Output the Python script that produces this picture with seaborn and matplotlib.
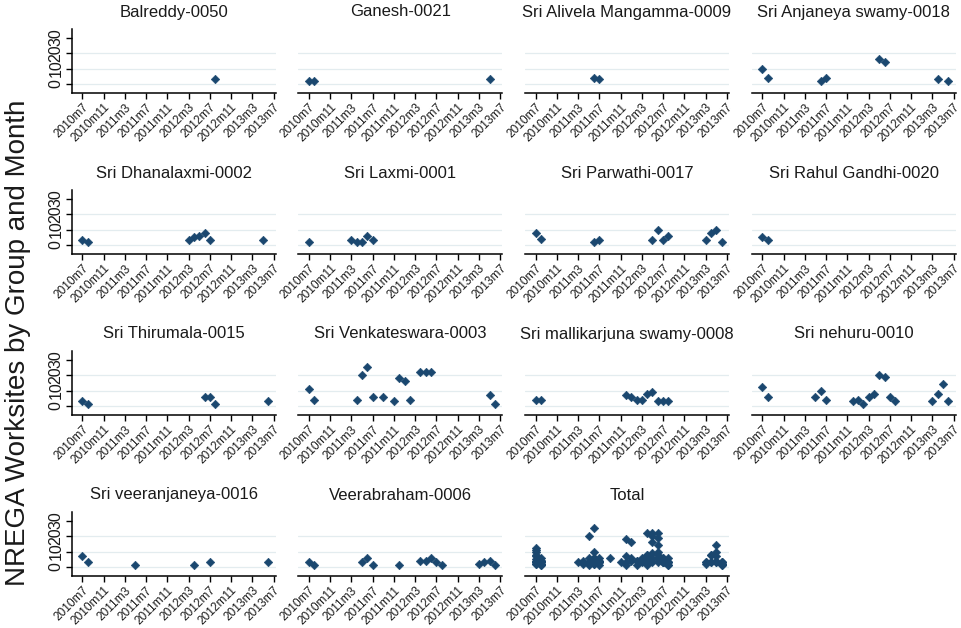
import matplotlib
matplotlib.use("Agg")
import matplotlib.pyplot as plt
import seaborn as sns
import pandas as pd

sns.set_theme(style="white")
plt.rcParams["font.family"] = ["Liberation Sans", "DejaVu Sans"]

# ---- worksites per month for each group ----
balreddy_months = ["2012m8"]
balreddy_values = [3]

ganesh_months = ["2010m7", "2010m8", "2013m5"]
ganesh_values = [2, 2, 3]

alivela_months = ["2011m6", "2011m7"]
alivela_values = [4, 3]

anjaneya_months = ["2010m7", "2010m8", "2011m6", "2011m7", "2012m5", "2012m6", "2013m4", "2013m6"]
anjaneya_values = [10, 4, 2, 4, 16, 14, 3, 2]

dhanalaxmi_months = ["2010m7", "2010m8", "2012m3", "2012m4", "2012m5", "2012m6", "2012m7", "2013m5"]
dhanalaxmi_values = [3, 2, 3, 5, 6, 8, 3, 3]

laxmi_months = ["2010m7", "2011m3", "2011m4", "2011m5", "2011m6", "2011m7"]
laxmi_values = [2, 3, 2, 2, 6, 3]

parwathi_months = ["2010m7", "2010m8", "2011m6", "2011m7", "2012m5", "2012m6", "2012m7", "2012m8",
                   "2013m3", "2013m4", "2013m5", "2013m6"]
parwathi_values = [8, 4, 2, 3, 3, 10, 3, 6, 3, 8, 10, 2]

rahul_months = ["2010m7", "2010m8"]
rahul_values = [5, 3]

thirumala_months = ["2010m7", "2010m8", "2012m6", "2012m7", "2012m8", "2013m6"]
thirumala_values = [3, 1, 6, 6, 1, 3]

venkateswara_months = ["2010m7", "2010m8", "2011m4", "2011m5", "2011m6", "2011m7", "2011m9", "2011m11",
                       "2011m12", "2012m1", "2012m2", "2012m4", "2012m5", "2012m6", "2013m5", "2013m6"]
venkateswara_values = [11, 4, 4, 20, 25, 6, 6, 3, 18, 16, 4, 22, 22, 22, 7, 1]

mallikarjuna_months = ["2010m7", "2010m8", "2011m12", "2012m1", "2012m2", "2012m3", "2012m4", "2012m5",
                       "2012m6", "2012m7", "2012m8"]
mallikarjuna_values = [4, 4, 7, 6, 4, 4, 8, 9, 3, 3, 3]

nehuru_months = ["2010m7", "2010m8", "2011m5", "2011m6", "2011m7", "2011m12", "2012m1", "2012m2", "2012m3",
                 "2012m4", "2012m5", "2012m6", "2012m7", "2012m8", "2013m3", "2013m4", "2013m5", "2013m6"]
nehuru_values = [12, 6, 6, 10, 4, 3, 4, 1, 6, 8, 20, 19, 6, 3, 3, 8, 14, 3]

veeranjaneya_months = ["2010m7", "2010m8", "2011m5", "2012m4", "2012m7", "2013m6"]
veeranjaneya_values = [7, 3, 1, 1, 3, 3]

veerabraham_months = ["2010m7", "2010m8", "2011m5", "2011m6", "2011m7", "2011m12", "2012m4", "2012m5",
                      "2012m6", "2012m7", "2012m8", "2013m3", "2013m4", "2013m5", "2013m6"]
veerabraham_values = [3, 1, 3, 6, 1, 1, 4, 4, 6, 3, 1, 2, 3, 4, 1]

group_names = ["Balreddy-0050", "Ganesh-0021", "Sri Alivela Mangamma-0009", "Sri Anjaneya swamy-0018",
               "Sri Dhanalaxmi-0002", "Sri Laxmi-0001", "Sri Parwathi-0017", "Sri Rahul Gandhi-0020",
               "Sri Thirumala-0015", "Sri Venkateswara-0003", "Sri mallikarjuna swamy-0008", "Sri nehuru-0010",
               "Sri veeranjaneya-0016", "Veerabraham-0006"]
group_months = [balreddy_months, ganesh_months, alivela_months, anjaneya_months,
                dhanalaxmi_months, laxmi_months, parwathi_months, rahul_months,
                thirumala_months, venkateswara_months, mallikarjuna_months, nehuru_months,
                veeranjaneya_months, veerabraham_months]
group_values = [balreddy_values, ganesh_values, alivela_values, anjaneya_values,
                dhanalaxmi_values, laxmi_values, parwathi_values, rahul_values,
                thirumala_values, venkateswara_values, mallikarjuna_values, nehuru_values,
                veeranjaneya_values, veerabraham_values]

tick_labels = ["2010m7", "2010m11", "2011m3", "2011m7", "2011m11", "2012m3",
               "2012m7", "2012m11", "2013m3", "2013m7"]
y_ticks = [0, 10, 20, 30]


def month_index(label):
    year, month = label.split("m")
    return (int(year) - 2010) * 12 + int(month) - 7


frames = []
for name, months, values in zip(group_names, group_months, group_values):
    frames.append(pd.DataFrame({"group": name,
                                "month": [month_index(m) for m in months],
                                "worksites": values}))
data = pd.concat(frames, ignore_index=True)

panels = [(name, data[data["group"] == name]) for name in group_names]
panels.append(("Total", data))

W, H = 962, 628
fig = plt.figure(figsize=(W / 100, H / 100), dpi=100)
fig.patch.set_facecolor("white")

col_left = [71.7, 298.3, 525.0, 751.7]
row_top = [29.0, 190.0, 351.0, 512.0]
ax_w, ax_h = 204.0, 64.0

marker_color = "#1a476f"
grid_color = "#e3ecef"
text_color = "#1a1a1a"
tick_pos = [month_index(t) for t in tick_labels]

for i, (title, df) in enumerate(panels):
    r, c = divmod(i, 4)
    ax = fig.add_axes([col_left[c] / W, 1 - (row_top[r] + ax_h) / H, ax_w / W, ax_h / H])
    ax.set_facecolor("white")
    for y in (0, 10, 20):
        ax.axhline(y, color=grid_color, lw=0.9, zorder=0)
    sns.scatterplot(data=df, x="month", y="worksites", ax=ax, marker="D", s=19,
                    color=marker_color, edgecolor=marker_color, linewidth=0.4,
                    legend=False, zorder=3)
    ax.set_xlim(-2.0, 36.4)
    ax.set_ylim(-5.8, 35.5)
    ax.set_xlabel("")
    ax.set_ylabel("")
    ax.set_title(title, fontsize=12, color=text_color, pad=9)
    for side in ("top", "right"):
        ax.spines[side].set_visible(False)
    ax.spines["bottom"].set_color("black")
    ax.spines["bottom"].set_linewidth(1.1)
    ax.set_xticks(tick_pos)
    ax.set_xticklabels(tick_labels, rotation=45, ha="right", rotation_mode="anchor",
                       fontsize=8.6, color=text_color)
    ax.tick_params(axis="x", direction="out", length=4, width=1.0, color="black", pad=2, bottom=True)
    if c == 0:
        ax.spines["left"].set_color("black")
        ax.spines["left"].set_linewidth(1.1)
        ax.set_yticks(y_ticks)
        ax.set_yticklabels([str(v) for v in y_ticks], rotation=90, va="center",
                           fontsize=11.5, color=text_color)
        ax.tick_params(axis="y", direction="out", length=4, width=1.0, color="black", pad=2, left=True)
    else:
        ax.spines["left"].set_visible(False)
        ax.set_yticks([])

fig.text(18 / W, 1 - 343 / H, "NREGA Worksites by Group and Month", rotation=90,
         ha="center", va="center", fontsize=20, color=text_color)

fig.savefig("out.png", dpi=100, facecolor="white")
